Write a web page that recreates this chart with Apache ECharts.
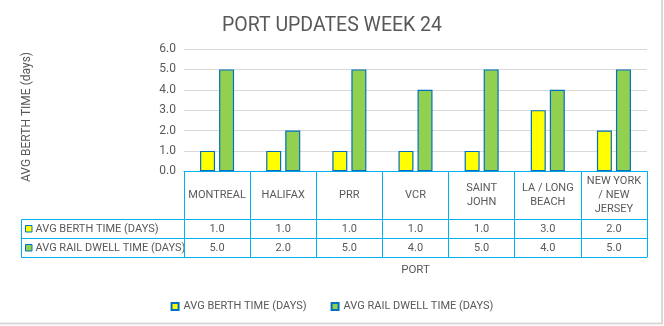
<!DOCTYPE html>
<html>
<head>
<meta charset="utf-8">
<script src="https://cdn.jsdelivr.net/npm/echarts@6/dist/echarts.min.js"></script>
<style>
  html, body { margin: 0; padding: 0; background: #fff; }
  #chart { width: 664px; height: 326px; }
</style>
</head>
<body>
<div id="chart"></div>
<script>
// Port performance for week 24
const ports = ['MONTREAL', 'HALIFAX', 'PRR', 'VCR', 'SAINT\nJOHN', 'LA / LONG\nBEACH', 'NEW YORK\n/ NEW\nJERSEY'];
const berthTime = [1, 1, 1, 1, 1, 3, 2];
const railDwell = [5, 2, 5, 4, 5, 4, 5];
const seriesNames = ['AVG BERTH TIME (DAYS)', 'AVG RAIL DWELL TIME (DAYS)'];
const seriesColors = ['#FFFF00', '#92D050'];

const FONT = 'Roboto';
const TEXT = '#595959';
const TABLE_LINE = '#00B0F0';
const BAR_EDGE = '#0070C0';

const gridLeft = 184, gridRight = 647, axisY = 171.3;
const rowLines = [219.5, 238.5, 257.5];

const chart = echarts.init(document.getElementById('chart'), null, { renderer: 'canvas' });

const fmt = v => v.toFixed(1);

// data-table rows rendered as extra category axes under the plot
function tableRowAxis(values, rowCenter) {
  return {
    type: 'category',
    gridIndex: 0,
    position: 'bottom',
    data: values.map(fmt),
    axisLine: { show: false },
    axisTick: { show: false },
    splitLine: { show: false },
    axisLabel: {
      interval: 0,
      margin: rowCenter - axisY,
      verticalAlign: 'middle',
      color: TEXT,
      fontFamily: FONT,
      fontSize: 11
    }
  };
}

const graphics = [
  // outer chart frame
  { type: 'rect', shape: { x: -5, y: -5, width: 667, height: 328.5 },
    style: { fill: 'none', stroke: '#D9D9D9', lineWidth: 2 }, silent: true },
  // axis title
  { type: 'text', x: 27, y: 117, rotation: Math.PI / 2,
    style: { text: 'AVG BERTH TIME (days)', fill: TEXT, font: '12px ' + FONT,
             align: 'center', verticalAlign: 'middle' } },
  // table grid: left edge of the row-label column
  { type: 'line', shape: { x1: 21.5, y1: rowLines[0], x2: 21.5, y2: rowLines[2] },
    style: { stroke: TABLE_LINE, lineWidth: 1 } }
];
rowLines.forEach(y => {
  graphics.push({ type: 'line', shape: { x1: 21.5, y1: y, x2: gridRight, y2: y },
    style: { stroke: TABLE_LINE, lineWidth: 1 } });
});
// row headers with legend keys
seriesNames.forEach((name, i) => {
  const cy = (rowLines[i] + rowLines[i + 1]) / 2;
  graphics.push({ type: 'rect', shape: { x: 25.5, y: cy - 3.5, width: 6.5, height: 6.5 },
    style: { fill: seriesColors[i], stroke: BAR_EDGE, lineWidth: 1 } });
  graphics.push({ type: 'text', x: 35.5, y: cy,
    style: { text: name, fill: TEXT, font: '11px ' + FONT, verticalAlign: 'middle' } });
});

chart.setOption({
  animation: false,
  backgroundColor: '#fff',
  title: {
    text: 'PORT UPDATES WEEK 24',
    left: 'center',
    top: 11,
    textStyle: { color: TEXT, fontFamily: FONT, fontSize: 19.5, fontWeight: 'normal' }
  },
  legend: {
    top: 296,
    left: 'center',
    itemWidth: 7,
    itemHeight: 7,
    itemGap: 24,
    icon: 'rect',
    textStyle: { color: TEXT, fontFamily: FONT, fontSize: 11 },
    data: seriesNames
  },
  grid: { left: gridLeft, right: 664 - gridRight, top: 49, bottom: 326 - axisY },
  xAxis: [
    {
      type: 'category',
      data: ports,
      position: 'bottom',
      name: 'PORT',
      nameLocation: 'middle',
      nameGap: 93,
      nameTextStyle: { color: TEXT, fontFamily: FONT, fontSize: 11.5 },
      axisLine: { lineStyle: { color: TABLE_LINE, width: 1 } },
      axisTick: { show: true, interval: 0, length: rowLines[2] - axisY,
                  lineStyle: { color: TABLE_LINE, width: 1 } },
      axisLabel: {
        interval: 0,
        margin: 24,
        verticalAlign: 'middle',
        lineHeight: 14,
        color: TEXT,
        fontFamily: FONT,
        fontSize: 11
      }
    },
    tableRowAxis(berthTime, (rowLines[0] + rowLines[1]) / 2),
    tableRowAxis(railDwell, (rowLines[1] + rowLines[2]) / 2)
  ],
  yAxis: {
    type: 'value',
    min: 0,
    max: 6,
    interval: 1,
    axisLine: { show: false },
    axisTick: { show: false },
    axisLabel: { color: TEXT, fontFamily: FONT, fontSize: 12, margin: 8, formatter: v => fmt(v) },
    splitLine: { lineStyle: { color: '#D9D9D9', width: 1 } }
  },
  series: [
    {
      name: seriesNames[0],
      type: 'bar',
      xAxisIndex: 0,
      data: berthTime,
      barWidth: 15,
      barGap: '27%',
      itemStyle: { color: seriesColors[0], borderColor: BAR_EDGE, borderWidth: 1.2 }
    },
    {
      name: seriesNames[1],
      type: 'bar',
      xAxisIndex: 0,
      data: railDwell,
      barWidth: 15,
      barGap: '27%',
      itemStyle: { color: seriesColors[1], borderColor: BAR_EDGE, borderWidth: 1.2 }
    }
  ],
  graphic: graphics
});
</script>
</body>
</html>
